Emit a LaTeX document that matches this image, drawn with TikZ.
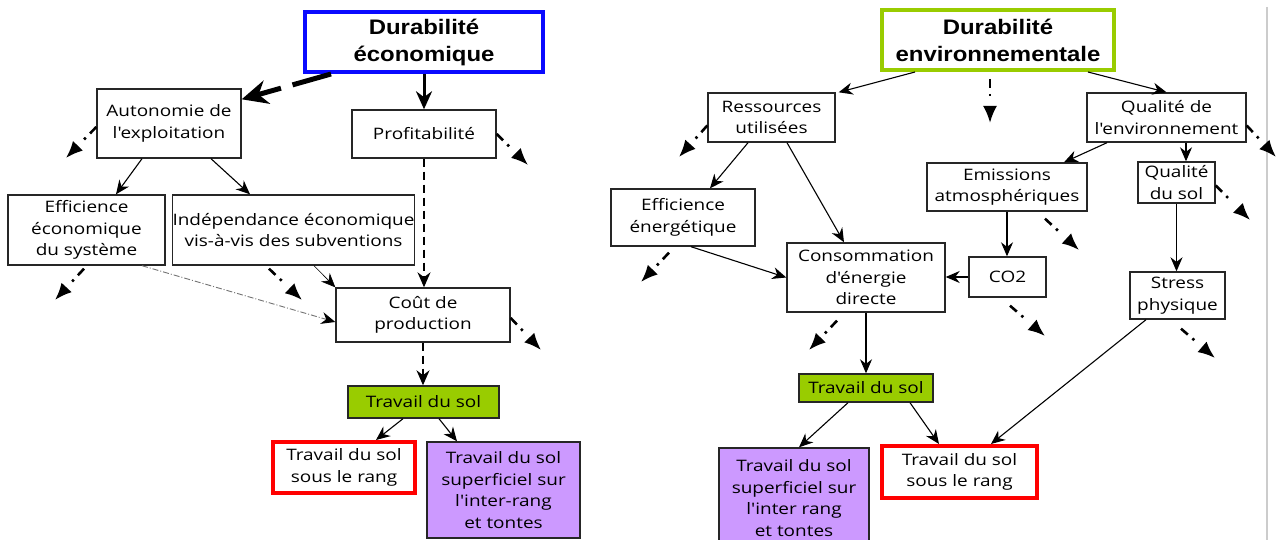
\documentclass[tikz,border=0pt]{standalone}
\usepackage{fontspec}
\usetikzlibrary{arrows.meta}
\newfontfamily\bodyfont{Open Sans}[FakeStretch=1.2,Ligatures=ResetAll]
\newfontfamily\titlefont{Liberation Sans}[FakeStretch=1.14,Ligatures=ResetAll]
\definecolor{ecoblue}{RGB}{10,10,255}
\definecolor{envgreen}{RGB}{153,204,0}
\definecolor{lav}{RGB}{204,153,255}
\definecolor{redb}{RGB}{255,0,0}
\tikzset{
 box/.style={draw=black!85,line width=1.4pt,fill=white,inner sep=0pt,align=center,
   font=\bodyfont\fontsize{15.8}{21.5}\selectfont},
 sz/.style 2 args={minimum width=#1pt,minimum height=#2pt},
 titlebox/.style={draw,line width=4pt,fill=white,inner sep=0pt,align=center,
   font=\titlefont\bfseries\fontsize{21}{27}\selectfont},
 greenbox/.style={box,fill=envgreen},
 lavbox/.style={box,fill=lav},
 redbox/.style={box,draw=redb,line width=4pt},
 thin/.style={line width=1.1pt,-{Stealth[length=14pt,width=12pt]}},
 dangle/.style={line width=2.6pt,dash pattern=on 9pt off 6pt on 2.5pt off 40pt,
   -{Latex[length=17pt,width=14pt]}},
 dashedarrow/.style={line width=1.5pt,dash pattern=on 8pt off 5pt,-{Stealth[length=15pt,width=13pt]}}
}
\begin{document}
\begin{tikzpicture}[x=1pt,y=-1pt]
\useasboundingbox (0,0) rectangle (1277,540);
\fill[white] (0,0) rectangle (1277,540);
\draw[black!20,line width=1.5pt] (1267,7) -- (1267,540);

% ---------- left diagram ----------
\node[titlebox,draw=ecoblue,sz={238}{60}] (eco) at (424,42) {Durabilité\\économique};
\node[box,sz={144}{69}] (auto) at (169,123.5) {Autonomie de\\l'exploitation};
\node[box,sz={144}{48}] (prof) at (424,134) {Profitabilité};
\node[box,sz={157}{70}] (effi) at (86.5,230) {Efficience\\économique\\du système};
\node[box,sz={241}{70}] (inde) at (293.5,230) {Indépendance économique\\vis-à-vis des subventions};
\node[box,sz={174}{54}] (cout) at (423,315) {Coût de\\production};
\node[greenbox,sz={151}{32}] (tds) at (423.5,402) {Travail du sol};
\node[redbox,sz={142}{51}] (rang) at (344,467.5) {Travail du sol\\sous le rang};
\node[lavbox,sz={153}{96}] (sup) at (503.5,490) {Travail du sol\\superficiel sur\\l'inter-rang\\et tontes};

\coordinate (autoout) at (66,158);
\coordinate (profout) at (528,165);
\coordinate (effiout) at (55,300);
\coordinate (indeout) at (302,300);
\coordinate (coutout) at (541,350);

\draw[line width=5pt,dash pattern=on 40pt off 12pt,-{Stealth[length=26pt,width=24pt]}]
  ([xshift=28pt]eco.south west) -- ([yshift=-11pt]auto.north east);
\draw[line width=3pt,-{Stealth[length=18pt,width=16pt]}] (eco.south) -- (prof.north);
\draw[dangle] ([yshift=-3.5pt]auto.west) -- (autoout);
\draw[dangle] (prof.east) -- (profout);
\draw[thin] ([xshift=-27pt]auto.south) -- ([xshift=29.5pt]effi.north);
\draw[thin] ([xshift=42pt]auto.south) -- ([xshift=-43.5pt]inde.north);
\draw[dashedarrow] (prof.south) -- (prof.south |- cout.north);
\draw[dangle] ([xshift=-2.5pt,yshift=-3pt]effi.south) -- (effiout);
\draw[dangle] ([xshift=-24.5pt,yshift=-3pt]inde.south) -- (indeout);
\draw[black!55,line width=0.9pt,dash pattern=on 6pt off 2pt on 1pt off 2pt,
  -{Stealth[length=14pt,width=12pt,black]}] ([xshift=55.5pt]effi.south) -- ([yshift=-7pt]cout.west);
\draw[line width=0.6pt,-{Stealth[length=14pt,width=12pt]}] ([xshift=20.5pt]inde.south) -- (cout.north west);
\draw[dangle] ([yshift=-3pt]cout.east) -- (coutout);
\draw[dashedarrow] (cout.south) -- (cout.south |- tds.north);
\draw[thin] ([xshift=-20.5pt]tds.south) -- ([xshift=32pt]rang.north);
\draw[thin] ([xshift=15.5pt]tds.south) -- ([xshift=-46.5pt]sup.north);

% ---------- right diagram ----------
\node[titlebox,draw=envgreen,sz={232}{60}] (env) at (998,40) {Durabilité\\environnementale};
\node[box,sz={127}{49}] (res) at (771.5,117.5) {Ressources\\utilisées};
\node[box,sz={159}{49}] (qenv) at (1166.5,117.5) {Qualité de\\l'environnement};
\node[box,sz={160}{48}] (emis) at (1007,187) {Emissions\\atmosphériques};
\node[box,sz={77}{41}] (qsol) at (1176.5,182.5) {Qualité\\du sol};
\node[box,sz={144}{57}] (effe) at (683,217.5) {Efficience\\énergétique};
\node[box,sz={158}{69}] (conso) at (866,277.5) {Consommation\\d'énergie\\directe};
\node[box,sz={77}{40}] (co2) at (1007.5,277) {CO2};
\node[box,sz={95}{47}] (stress) at (1177.5,295.5) {Stress\\physique};
\node[greenbox,sz={134}{28}] (tds2) at (866,388) {Travail du sol};
\node[lavbox,sz={150}{100}] (sup2) at (794,498) {Travail du sol\\superficiel sur\\l'inter rang\\et tontes};
\node[redbox,sz={155}{52}] (rang2) at (959.5,472) {Travail du sol\\sous le rang};

\coordinate (envout) at (990,123);
\coordinate (resout) at (679,157);
\coordinate (qenvout) at (1276,157);
\coordinate (qsolout) at (1250,220);
\coordinate (emisout) at (1079,250);
\coordinate (effeout) at (641,282);
\coordinate (co2out) at (1045,336);
\coordinate (stressout) at (1215,358);
\coordinate (consoout) at (809,350);

\draw[thin] ([xshift=-83pt]env.south) -- ([xshift=3pt]res.north east);
\draw[thin] ([xshift=90pt]env.south) -- (qenv.north);
\draw[dangle] ([xshift=-8pt,yshift=-7pt]env.south) -- (envout);
\draw[dangle] ([yshift=-8pt]res.west) -- (resout);
\draw[dangle] ([yshift=-8pt]qenv.east) -- (qenvout);
\draw[thin] ([xshift=-23.5pt]res.south) -- ([xshift=27pt]effe.north);
\draw[thin] ([xshift=15.5pt]res.south) -- ([xshift=-22pt]conso.north);
\draw[thin] ([xshift=-59.5pt]qenv.south) -- ([xshift=57pt]emis.north);
\draw[thin] ([xshift=9.5pt]qsol.north |- qenv.south) -- ([xshift=9.5pt]qsol.north);
\draw[dangle] ([yshift=-3pt]qsol.east) -- (qsolout);
\draw[thin] (emis.south) -- (emis.south |- co2.north);
\draw[dangle] ([xshift=38pt,yshift=-7pt]emis.south) -- (emisout);
\draw[thin] (qsol.south) -- (qsol.south |- stress.north);
\draw[dangle] ([xshift=-14pt,yshift=-6pt]effe.south) -- (effeout);
\draw[thin] ([xshift=8pt]effe.south) -- (conso.west);
\draw[thin] (co2.west) -- (conso.east |- co2.west);
\draw[dangle] ([xshift=2.5pt,yshift=-8pt]co2.south) -- (co2out);
\draw[dangle] ([xshift=3.5pt,yshift=-9pt]stress.south) -- (stressout);
\draw[dangle] ([xshift=-29pt,yshift=-8pt]conso.south) -- (consoout);
\draw[thin] (conso.south) -- (tds2.north);
\draw[thin] ([xshift=-18pt]tds2.south) -- ([xshift=5pt]sup2.north);
\draw[thin] ([xshift=44pt]tds2.south) -- ([xshift=-20.5pt]rang2.north);
\draw[thin] ([xshift=-31.5pt]stress.south) -- ([xshift=31.5pt]rang2.north);
\end{tikzpicture}
\end{document}
